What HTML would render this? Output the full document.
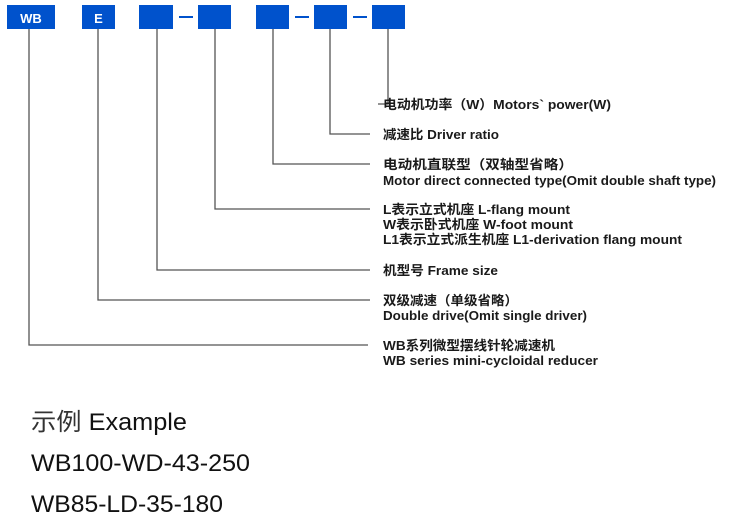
<!DOCTYPE html>
<html><head><meta charset="utf-8"><style>
html,body{margin:0;padding:0;background:#fff;width:747px;height:520px;overflow:hidden}
svg{display:block}
.l{font-family:"Liberation Sans","Noto Sans CJK SC",sans-serif;font-size:13px;fill:#1a1a1a;font-weight:bold}
.e{font-family:"Liberation Sans","Noto Sans CJK SC",sans-serif;font-size:24px;fill:#111}
</style></head><body>
<svg width="747" height="520" viewBox="0 0 747 520" xmlns="http://www.w3.org/2000/svg">
<g fill="#0052cc">
<rect x="7" y="5" width="48" height="24"/>
<rect x="82" y="5" width="33" height="24"/>
<rect x="139" y="5" width="34" height="24"/>
<rect x="198" y="5" width="33" height="24"/>
<rect x="256" y="5" width="33" height="24"/>
<rect x="314" y="5" width="33" height="24"/>
<rect x="372" y="5" width="33" height="24"/>
<rect x="179" y="16" width="14" height="2"/>
<rect x="295" y="16" width="14" height="2"/>
<rect x="353" y="16" width="14" height="2"/>
</g>
<text x="31" y="23" text-anchor="middle" fill="#fff" font-family="Liberation Sans,sans-serif" font-weight="bold" font-size="13">WB</text>
<text x="98.5" y="23" text-anchor="middle" fill="#fff" font-family="Liberation Sans,sans-serif" font-weight="bold" font-size="13">E</text>
<g fill="none" stroke="#555" stroke-width="1.3">
<polyline points="388,29 388,104 378,104"/>
<polyline points="330,29 330,134 370,134"/>
<polyline points="273,29 273,164 370,164"/>
<polyline points="215,29 215,209 370,209"/>
<polyline points="157,29 157,270 370,270"/>
<polyline points="98,29 98,300 370,300"/>
<polyline points="29,29 29,345 368,345"/>
</g>
<text class="l" x="383" y="109" textLength="228" lengthAdjust="spacingAndGlyphs">电动机功率（W）Motors` power(W)</text>
<text class="l" x="383" y="139" textLength="116" lengthAdjust="spacingAndGlyphs">减速比 Driver ratio</text>
<text class="l" x="383" y="169" textLength="190" lengthAdjust="spacingAndGlyphs">电动机直联型（双轴型省略）</text>
<text class="l" x="383" y="185" textLength="333" lengthAdjust="spacingAndGlyphs">Motor direct connected type(Omit double shaft type)</text>
<text class="l" x="383" y="214" textLength="187" lengthAdjust="spacingAndGlyphs">L表示立式机座 L-flang mount</text>
<text class="l" x="383" y="229" textLength="190" lengthAdjust="spacingAndGlyphs">W表示卧式机座 W-foot mount</text>
<text class="l" x="383" y="244" textLength="299" lengthAdjust="spacingAndGlyphs">L1表示立式派生机座 L1-derivation flang mount</text>
<text class="l" x="383" y="275" textLength="115" lengthAdjust="spacingAndGlyphs">机型号 Frame size</text>
<text class="l" x="383" y="305" textLength="135" lengthAdjust="spacingAndGlyphs">双级减速（单级省略）</text>
<text class="l" x="383" y="320" textLength="204" lengthAdjust="spacingAndGlyphs">Double drive(Omit single driver)</text>
<text class="l" x="383" y="350" textLength="172" lengthAdjust="spacingAndGlyphs">WB系列微型摆线针轮减速机</text>
<text class="l" x="383" y="365" textLength="215" lengthAdjust="spacingAndGlyphs">WB series mini-cycloidal reducer</text>
<text class="e" x="31" y="430" textLength="156" lengthAdjust="spacingAndGlyphs"><tspan fill="#333">示例</tspan> Example</text>
<text class="e" x="31" y="471" textLength="219" lengthAdjust="spacingAndGlyphs">WB100-WD-43-250</text>
<text class="e" x="31" y="512" textLength="192" lengthAdjust="spacingAndGlyphs">WB85-LD-35-180</text>
</svg>
</body></html>
